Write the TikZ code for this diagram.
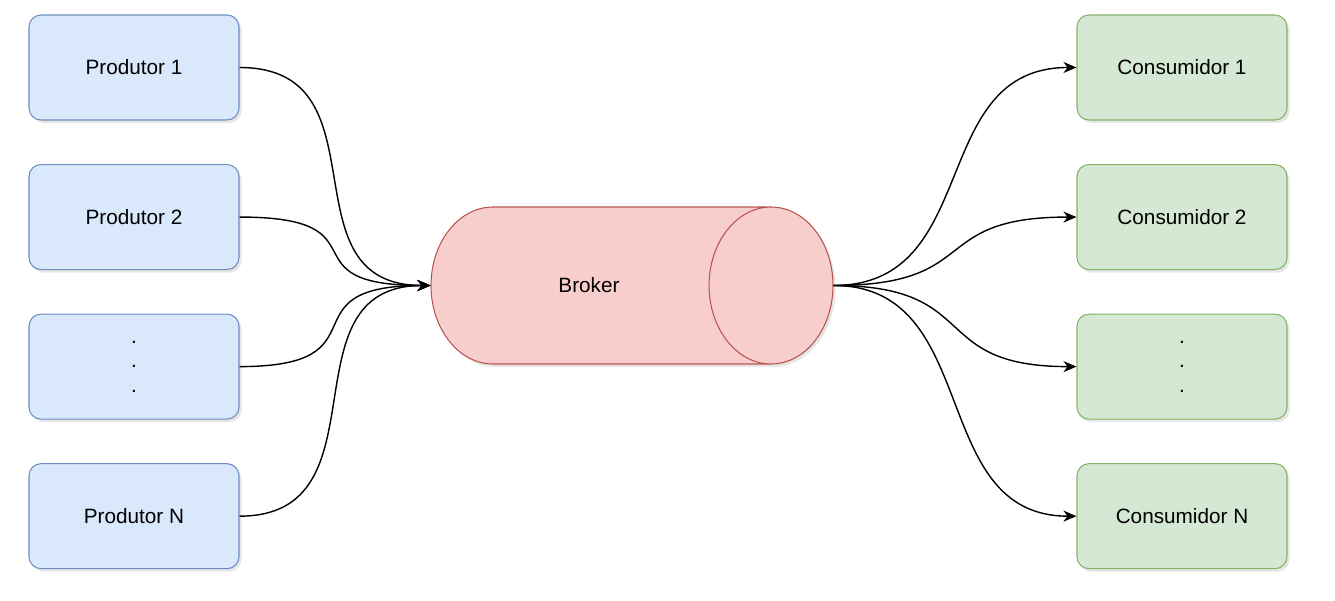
\documentclass[tikz,border=0pt]{standalone}
\usepackage{fontspec}
\setmainfont{Liberation Sans}
\usepackage{tikz}
\usetikzlibrary{arrows.meta,calc,positioning,shapes.geometric,shadows}

\definecolor{prodfill}{HTML}{DAE8FC}
\definecolor{proddraw}{HTML}{6C8EBF}
\definecolor{consfill}{HTML}{D5E8D4}
\definecolor{consdraw}{HTML}{82B366}
\definecolor{brokfill}{HTML}{F8CECC}
\definecolor{brokdraw}{HTML}{B85450}

\tikzset{
  box/.style={rectangle, rounded corners=2.4mm, minimum width=4.2cm, minimum height=2.1cm,
    line width=0.6pt, align=center, font=\fontsize{11.8}{13.9}\selectfont,
    drop shadow={shadow xshift=0.5mm, shadow yshift=-0.6mm, opacity=0.2}},
  prod/.style={box, fill=prodfill, draw=proddraw},
  cons/.style={box, fill=consfill, draw=consdraw},
  queue/.style={cylinder, shape border rotate=0, aspect=4.6,
    minimum width=3.14cm, minimum height=8.04cm, line width=0.6pt,
    fill=brokfill, draw=brokdraw, font=\fontsize{11.8}{13.9}\selectfont,
    drop shadow={shadow xshift=0.5mm, shadow yshift=-0.6mm, opacity=0.2}},
  flow/.style={line width=0.8pt, -{Stealth[length=2.6mm,width=2.2mm,inset=0.8mm]}},
  curvy/.style={out=0, in=180, distance=3cm}
}

\begin{document}
\begin{tikzpicture}
\useasboundingbox (0,0) rectangle (26.7,12);

% produtores
\node[prod] (p1) at (2.68,10.65) {Produtor 1};
\node[prod, below=0.87cm of p1] (p2) {Produtor 2};
\node[prod, below=0.87cm of p2] (p3) {.\\.\\.};
\node[prod, below=0.87cm of p3] (pn) {Produtor N};

% broker
\node[queue] (brk) at (11.78,6.29) {Broker};

% consumidores
\node[cons] (c1) at (23.64,10.65) {Consumidor 1};
\node[cons, below=0.87cm of c1] (c2) {Consumidor 2};
\node[cons, below=0.87cm of c2] (c3) {.\\.\\.};
\node[cons, below=0.87cm of c3] (cn) {Consumidor N};

\draw[flow] (p1.east) to[curvy] (brk.west);
\draw[flow] (p2.east) to[curvy] (brk.west);
\draw[flow] (p3.east) to[curvy] (brk.west);
\draw[flow] (pn.east) to[curvy] (brk.west);

\draw[flow] (brk.east) to[curvy] (c1.west);
\draw[flow] (brk.east) to[curvy] (c2.west);
\draw[flow] (brk.east) to[curvy] (c3.west);
\draw[flow] (brk.east) to[curvy] (cn.west);
\end{tikzpicture}
\end{document}
